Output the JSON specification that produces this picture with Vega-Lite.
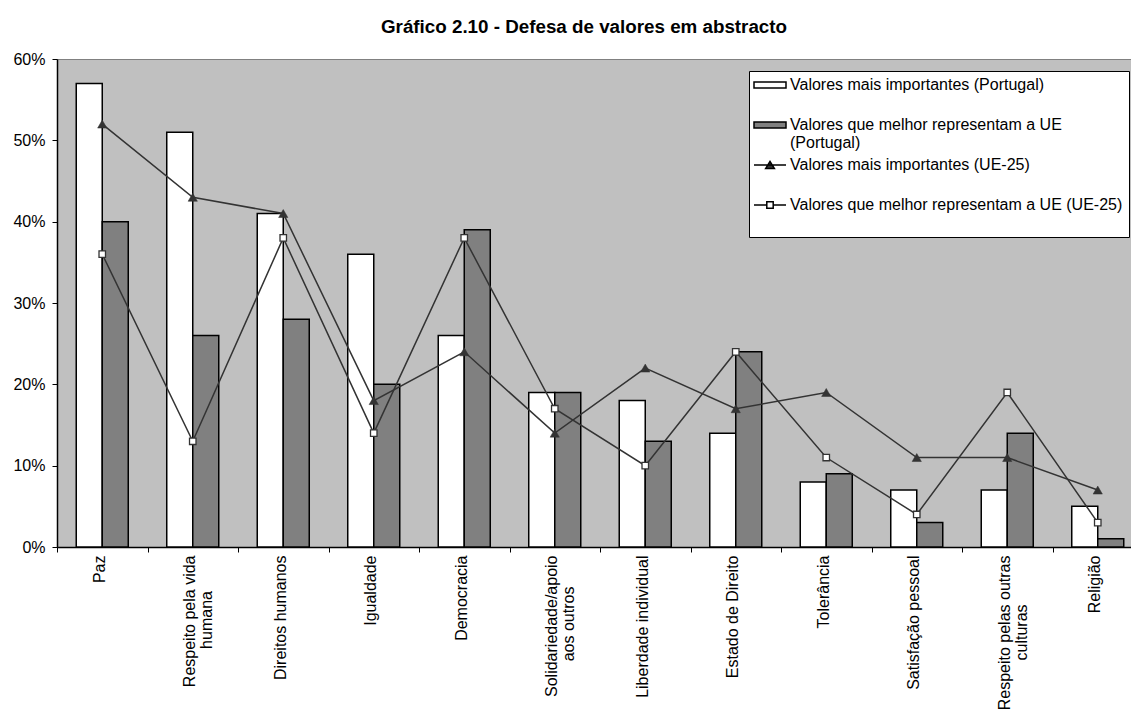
{
  "$schema": "https://vega.github.io/schema/vega-lite/v6.json",
  "autosize": {"type": "none"},
  "width": 1074,
  "height": 488,
  "padding": {"left": 57, "top": 59, "right": 0, "bottom": 162},
  "background": "white",
  "title": {
    "text": "Gráfico 2.10 - Defesa de valores em abstracto",
    "font": "Liberation Sans",
    "fontSize": 18.8,
    "fontWeight": "bold",
    "color": "black",
    "anchor": "middle",
    "frame": "group",
    "offset": 14,
    "dx": -10
  },
  "config": {
    "view": {"fill": "#C0C0C0", "stroke": "#808080", "strokeWidth": 1},
    "axis": {
      "labelFont": "Liberation Sans",
      "labelFontSize": 16,
      "labelColor": "black",
      "domainColor": "black",
      "domainWidth": 1.5,
      "tickColor": "black",
      "tickWidth": 1,
      "grid": false,
      "title": null
    },
    "legend": {
      "orient": "none",
      "legendX": 692,
      "legendY": 12,
      "fillColor": "white",
      "strokeColor": "black",
      "padding": 6,
      "rowPadding": 6,
      "gridAlign": "all",
      "symbolSize": 64,
      "symbolStrokeColor": "black",
      "symbolStrokeWidth": 1.5,
      "symbolOpacity": 1,
      "symbolOffset": 7,
      "labelOffset": 12,
      "labelFont": "Liberation Sans",
      "labelFontSize": 16,
      "labelColor": "black",
      "labelLimit": 600,
      "labelBaseline": "top"
    }
  },
  "data": {
    "values": [
      {"cat": "Paz", "s": "Valores mais importantes (Portugal)", "v": 57},
      {"cat": "Respeito pela vida humana", "s": "Valores mais importantes (Portugal)", "v": 51},
      {"cat": "Direitos humanos", "s": "Valores mais importantes (Portugal)", "v": 41},
      {"cat": "Igualdade", "s": "Valores mais importantes (Portugal)", "v": 36},
      {"cat": "Democracia", "s": "Valores mais importantes (Portugal)", "v": 26},
      {"cat": "Solidariedade/apoio aos outros", "s": "Valores mais importantes (Portugal)", "v": 19},
      {"cat": "Liberdade individual", "s": "Valores mais importantes (Portugal)", "v": 18},
      {"cat": "Estado de Direito", "s": "Valores mais importantes (Portugal)", "v": 14},
      {"cat": "Tolerância", "s": "Valores mais importantes (Portugal)", "v": 8},
      {"cat": "Satisfação pessoal", "s": "Valores mais importantes (Portugal)", "v": 7},
      {"cat": "Respeito pelas outras culturas", "s": "Valores mais importantes (Portugal)", "v": 7},
      {"cat": "Religião", "s": "Valores mais importantes (Portugal)", "v": 5},
      {"cat": "Paz", "s": "Valores que melhor representam a UE (Portugal)", "v": 40},
      {"cat": "Respeito pela vida humana", "s": "Valores que melhor representam a UE (Portugal)", "v": 26},
      {"cat": "Direitos humanos", "s": "Valores que melhor representam a UE (Portugal)", "v": 28},
      {"cat": "Igualdade", "s": "Valores que melhor representam a UE (Portugal)", "v": 20},
      {"cat": "Democracia", "s": "Valores que melhor representam a UE (Portugal)", "v": 39},
      {"cat": "Solidariedade/apoio aos outros", "s": "Valores que melhor representam a UE (Portugal)", "v": 19},
      {"cat": "Liberdade individual", "s": "Valores que melhor representam a UE (Portugal)", "v": 13},
      {"cat": "Estado de Direito", "s": "Valores que melhor representam a UE (Portugal)", "v": 24},
      {"cat": "Tolerância", "s": "Valores que melhor representam a UE (Portugal)", "v": 9},
      {"cat": "Satisfação pessoal", "s": "Valores que melhor representam a UE (Portugal)", "v": 3},
      {"cat": "Respeito pelas outras culturas", "s": "Valores que melhor representam a UE (Portugal)", "v": 14},
      {"cat": "Religião", "s": "Valores que melhor representam a UE (Portugal)", "v": 1},
      {"cat": "Paz", "s": "Valores mais importantes (UE-25)", "v": 52},
      {"cat": "Respeito pela vida humana", "s": "Valores mais importantes (UE-25)", "v": 43},
      {"cat": "Direitos humanos", "s": "Valores mais importantes (UE-25)", "v": 41},
      {"cat": "Igualdade", "s": "Valores mais importantes (UE-25)", "v": 18},
      {"cat": "Democracia", "s": "Valores mais importantes (UE-25)", "v": 24},
      {"cat": "Solidariedade/apoio aos outros", "s": "Valores mais importantes (UE-25)", "v": 14},
      {"cat": "Liberdade individual", "s": "Valores mais importantes (UE-25)", "v": 22},
      {"cat": "Estado de Direito", "s": "Valores mais importantes (UE-25)", "v": 17},
      {"cat": "Tolerância", "s": "Valores mais importantes (UE-25)", "v": 19},
      {"cat": "Satisfação pessoal", "s": "Valores mais importantes (UE-25)", "v": 11},
      {"cat": "Respeito pelas outras culturas", "s": "Valores mais importantes (UE-25)", "v": 11},
      {"cat": "Religião", "s": "Valores mais importantes (UE-25)", "v": 7},
      {"cat": "Paz", "s": "Valores que melhor representam a UE (UE-25)", "v": 36},
      {"cat": "Respeito pela vida humana", "s": "Valores que melhor representam a UE (UE-25)", "v": 13},
      {"cat": "Direitos humanos", "s": "Valores que melhor representam a UE (UE-25)", "v": 38},
      {"cat": "Igualdade", "s": "Valores que melhor representam a UE (UE-25)", "v": 14},
      {"cat": "Democracia", "s": "Valores que melhor representam a UE (UE-25)", "v": 38},
      {"cat": "Solidariedade/apoio aos outros", "s": "Valores que melhor representam a UE (UE-25)", "v": 17},
      {"cat": "Liberdade individual", "s": "Valores que melhor representam a UE (UE-25)", "v": 10},
      {"cat": "Estado de Direito", "s": "Valores que melhor representam a UE (UE-25)", "v": 24},
      {"cat": "Tolerância", "s": "Valores que melhor representam a UE (UE-25)", "v": 11},
      {"cat": "Satisfação pessoal", "s": "Valores que melhor representam a UE (UE-25)", "v": 4},
      {"cat": "Respeito pelas outras culturas", "s": "Valores que melhor representam a UE (UE-25)", "v": 19},
      {"cat": "Religião", "s": "Valores que melhor representam a UE (UE-25)", "v": 3}
    ]
  },
  "encoding": {
    "x": {
      "field": "cat",
      "type": "nominal",
      "sort": ["Paz", "Respeito pela vida humana", "Direitos humanos", "Igualdade", "Democracia", "Solidariedade/apoio aos outros", "Liberdade individual", "Estado de Direito", "Tolerância", "Satisfação pessoal", "Respeito pelas outras culturas", "Religião"],
      "scale": {"paddingInner": 0, "paddingOuter": 0, "range": [0, 1086]},
      "axis": {
        "title": null,
        "labelAngle": -90,
        "tickBand": "extent",
        "tickSize": 5,
        "labelPadding": 3,
        "labelOffset": -3,
        "labelLimit": 400,
        "labelOverlap": false,
        "labelFlush": false,
        "labelLineHeight": 17,
        "labelExpr": "datum.label == 'Respeito pela vida humana' ? ['Respeito pela vida', 'humana\u00a0\u00a0\u00a0\u00a0\u00a0\u00a0\u00a0\u00a0\u200b'] : datum.label == 'Solidariedade/apoio aos outros' ? ['Solidariedade/apoio', 'aos outros\u00a0\u00a0\u00a0\u00a0\u00a0\u00a0\u00a0\u200b'] : datum.label == 'Respeito pelas outras culturas' ? ['Respeito pelas outras', 'culturas\u00a0\u00a0\u00a0\u00a0\u00a0\u00a0\u00a0\u00a0\u00a0\u00a0\u00a0\u200b'] : datum.label",
        "encode": {"ticks": {"update": {"y": {"value": -5}}}}
      }
    },
    "y": {
      "field": "v",
      "type": "quantitative",
      "scale": {"domain": [0, 60], "nice": false, "zero": true},
      "axis": {
        "title": null,
        "values": [0, 10, 20, 30, 40, 50, 60],
        "tickSize": 5,
        "labelPadding": 7,
        "labelExpr": "datum.value + '%'"
      }
    }
  },
  "layer": [
    {
      "transform": [{"filter": "indexof(datum.s, '(Portugal)') >= 0"}],
      "mark": {"type": "bar", "stroke": "black", "strokeWidth": 1.5},
      "encoding": {
        "xOffset": {
          "field": "s",
          "type": "nominal",
          "sort": ["Valores mais importantes (Portugal)", "Valores que melhor representam a UE (Portugal)"],
          "scale": {"paddingInner": 0, "paddingOuter": 0.74}
        },
        "fill": {
          "field": "s",
          "type": "nominal",
          "scale": {
            "domain": ["Valores mais importantes (Portugal)", "Valores que melhor representam a UE (Portugal)", "Valores mais importantes (UE-25)", "Valores que melhor representam a UE (UE-25)"],
            "range": ["#FFFFFF", "#808080", "#333333", "#FFFFFF"]
          },
          "legend": {
            "title": null,
            "labelExpr": "datum.label == 'Valores que melhor representam a UE (Portugal)' ? ['Valores que melhor representam a UE', '(Portugal)'] : datum.label == 'Valores que melhor representam a UE (UE-25)' ? ['Valores que melhor representam a UE (UE-25)', ' '] : datum.label",
            "encode": {"labels": {"update": {"dy": {"value": -8}}}}
          }
        }
      }
    },
    {
      "transform": [{"filter": "datum.s == 'Valores mais importantes (UE-25)'"}],
      "mark": {"type": "line", "color": "#333333", "strokeWidth": 1.5},
      "encoding": {}
    },
    {
      "transform": [{"filter": "datum.s == 'Valores mais importantes (UE-25)'"}],
      "mark": {"type": "point", "shape": "triangle-up", "filled": true, "fill": "#333333", "stroke": "#333333", "strokeWidth": 0.5, "size": 85, "opacity": 1},
      "encoding": {}
    },
    {
      "transform": [{"filter": "datum.s == 'Valores que melhor representam a UE (UE-25)'"}],
      "mark": {"type": "line", "color": "#333333", "strokeWidth": 1.5},
      "encoding": {}
    },
    {
      "transform": [{"filter": "datum.s == 'Valores que melhor representam a UE (UE-25)'"}],
      "mark": {"type": "point", "shape": "square", "filled": true, "fill": "white", "stroke": "#333333", "strokeWidth": 1.3, "size": 42, "opacity": 1},
      "encoding": {}
    },
    {
      "transform": [{"filter": "false"}],
      "mark": {"type": "point", "filled": true, "opacity": 1},
      "encoding": {
        "x": {"field": "cat", "type": "nominal", "sort": ["Paz", "Respeito pela vida humana", "Direitos humanos", "Igualdade", "Democracia", "Solidariedade/apoio aos outros", "Liberdade individual", "Estado de Direito", "Tolerância", "Satisfação pessoal", "Respeito pelas outras culturas", "Religião"]},
        "fill": {
          "field": "s",
          "type": "nominal",
          "legend": {
            "title": null,
            "labelExpr": "datum.label == 'Valores que melhor representam a UE (Portugal)' ? ['Valores que melhor representam a UE', '(Portugal)'] : datum.label == 'Valores que melhor representam a UE (UE-25)' ? ['Valores que melhor representam a UE (UE-25)', ' '] : datum.label",
            "encode": {"labels": {"update": {"dy": {"value": -8}}}}
          }
        },
        "shape": {
          "field": "s",
          "type": "nominal",
          "scale": {
            "domain": ["Valores mais importantes (Portugal)", "Valores que melhor representam a UE (Portugal)", "Valores mais importantes (UE-25)", "Valores que melhor representam a UE (UE-25)"],
            "range": [
              "M-4,-0.75H4V0.75H-4Z",
              "M-4,-0.75H4V0.75H-4Z",
              "M-4,0H4M-1.1,0.9L0,-0.9L1.1,0.9Z",
              "M-4,0H-0.8M0.8,0H4M-0.8,-0.8H0.8V0.8H-0.8Z"
            ]
          },
          "legend": {
            "title": null,
            "labelExpr": "datum.label == 'Valores que melhor representam a UE (Portugal)' ? ['Valores que melhor representam a UE', '(Portugal)'] : datum.label == 'Valores que melhor representam a UE (UE-25)' ? ['Valores que melhor representam a UE (UE-25)', ' '] : datum.label",
            "encode": {"labels": {"update": {"dy": {"value": -8}}}}
          }
        }
      }
    }
  ]
}
